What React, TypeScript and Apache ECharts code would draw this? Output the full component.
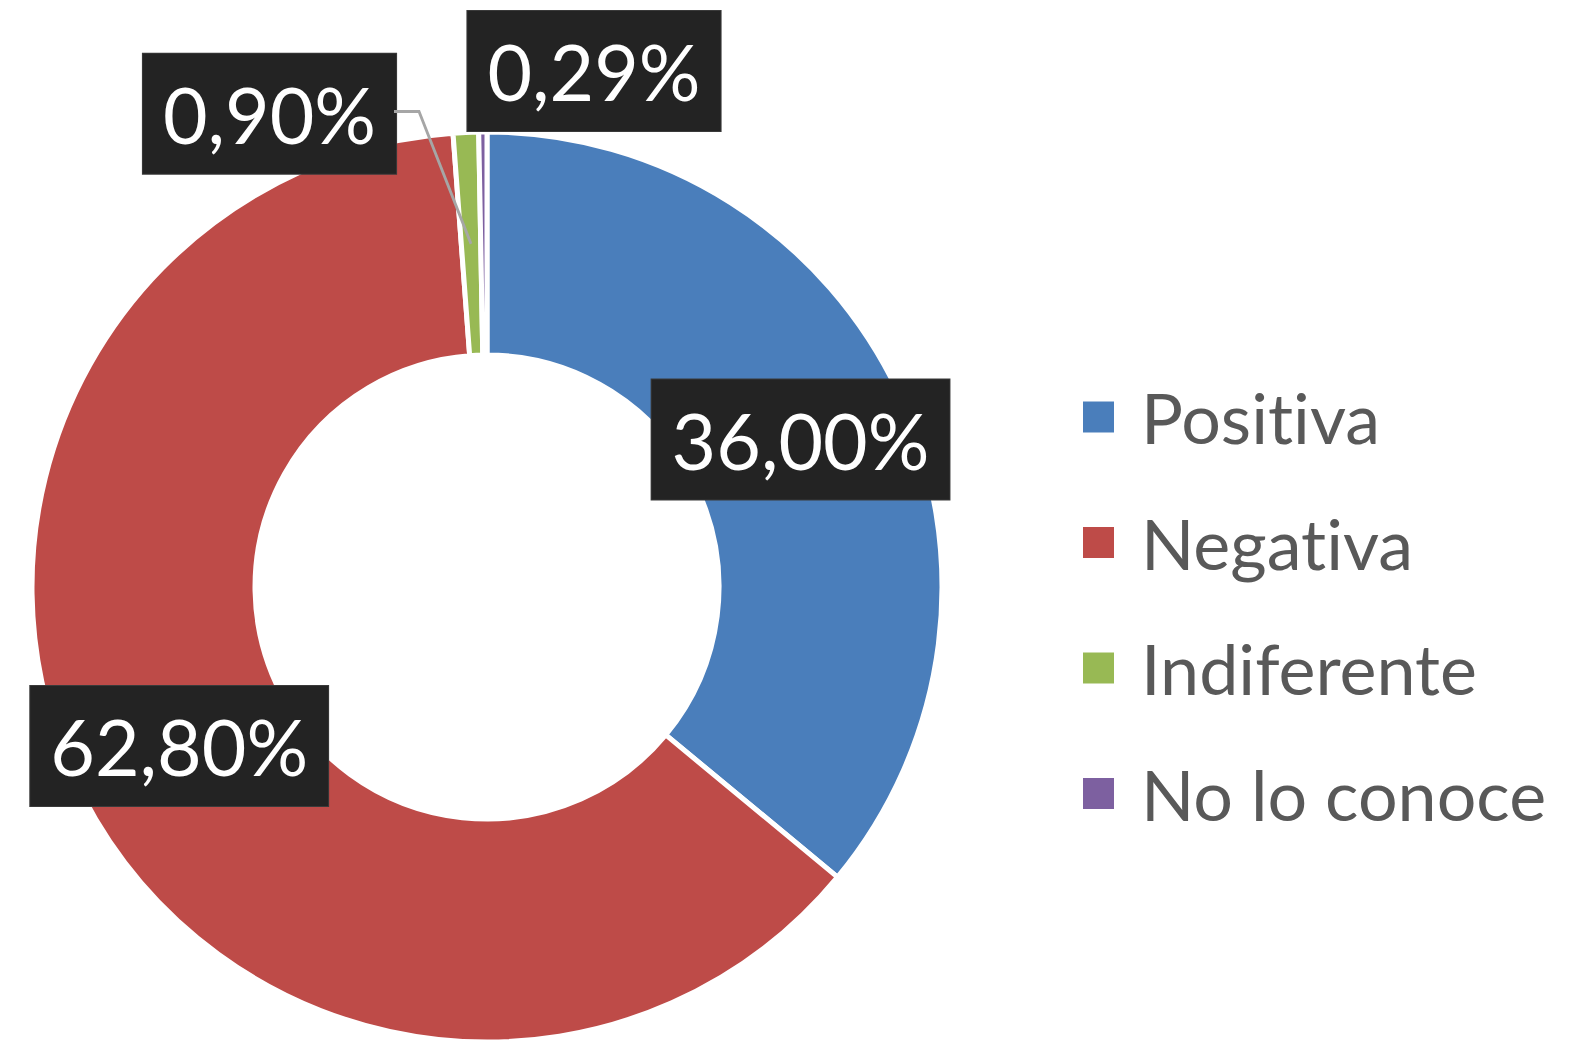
import React, { useEffect, useRef } from "react";
import * as echarts from "echarts";

const categories = ["Positiva", "Negativa", "Indiferente", "No lo conoce"];
const values = [36.0, 62.8, 0.9, 0.29];
const colors = ["#4A7EBB", "#BE4B48", "#98B954", "#7D60A0"];

const fmt = (v: number) => v.toFixed(2).replace(".", ",") + "%";

// positions of the two outside labels (label boxes centres)
const outsideLabelPos: Record<number, [number, number]> = {
  2: [269.5, 113.7],
  3: [594, 71],
};

export default function App() {
  const ref = useRef<HTMLDivElement>(null);
  useEffect(() => {
    if (!ref.current) return;
    const chart = echarts.init(ref.current, null, { renderer: "svg" });
    const labelBase = {
      show: true,
      formatter: (p: any) => fmt(p.value),
      color: "#ffffff",
      fontFamily: "Lato",
      fontSize: 77,
      lineHeight: 92,
      backgroundColor: "#232323",
      borderColor: "#3a3a3a",
      borderWidth: 1,
      padding: [14, 20, 14, 20],
    };
    const data = categories.map((name, i) => {
      const item: any = { name, value: values[i], itemStyle: { color: colors[i] } };
      if (i < 2) {
        item.label = { ...labelBase, position: "inside" };
      } else {
        item.label = { ...labelBase, position: "outside" };
        item.labelLine = { show: false };
      }
      return item;
    });
    chart.setOption({
      animation: false,
      legend: {
        orient: "vertical",
        left: 1076,
        top: 377,
        icon: "rect",
        itemWidth: 33,
        itemHeight: 33,
        itemGap: 55.5,
        data: categories,
        textStyle: {
          color: "#595959",
          fontFamily: "Lato",
          fontSize: 70,
          lineHeight: 70,
          padding: [0, 0, 0, 21],
        },
      },
      series: [
        {
          type: "pie",
          center: [487, 587],
          radius: [232, 455],
          startAngle: 90,
          clockwise: true,
          avoidLabelOverlap: false,
          itemStyle: { borderColor: "#ffffff", borderWidth: 5 },
          data,
          labelLayout: (p: any) => {
            const pos = outsideLabelPos[p.dataIndex];
            if (pos) {
              return { x: pos[0], y: pos[1], align: "center", verticalAlign: "middle" };
            }
            return {};
          },
        },
      ],
    });

    // leader line for "Indiferente": from its label box to the middle of its slice
    const seriesData = (chart as any).getModel().getSeriesByIndex(0).getData();
    const lay = seriesData.getItemLayout(2);
    if (lay) {
      const mid = (lay.startAngle + lay.endAngle) / 2;
      const rm = (lay.r + lay.r0) / 2;
      const ex = lay.cx + rm * Math.cos(mid);
      const ey = lay.cy + rm * Math.sin(mid);
      chart.setOption({
        graphic: [
          {
            type: "polyline",
            z: 5,
            shape: { points: [[394, 111.5], [419, 111.5], [ex, ey]] },
            style: { stroke: "#A6A6A6", lineWidth: 2.8, fill: null },
          },
        ],
      });
    }
    return () => chart.dispose();
  }, []);
  return (
    <div
      ref={ref}
      style={{
        position: "fixed",
        left: 0,
        top: 0,
        width: 1583,
        height: 1045,
        background: "#ffffff",
        fontVariantLigatures: "none",
      }}
    />
  );
}
